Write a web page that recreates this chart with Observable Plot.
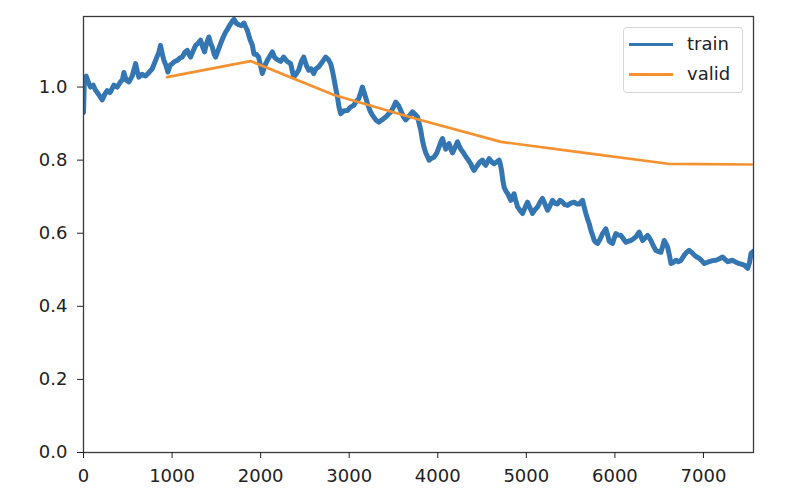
<!DOCTYPE html>
<html><head><meta charset="utf-8">
<script src="https://cdn.jsdelivr.net/npm/d3@7"></script>
<script src="https://cdn.jsdelivr.net/npm/@observablehq/plot@0.6"></script>
<style>
html,body{margin:0;padding:0;background:#fff;}
#wrap{position:relative;width:810px;height:504px;}
.legend{position:absolute;left:623px;top:27px;width:118px;height:64px;border:1px solid #d6d6d6;border-radius:4px;background:rgba(255,255,255,0.85);font-family:"DejaVu Sans";font-size:18px;color:#222;}
.legend .sw{position:absolute;left:5px;width:44px;height:3px;}
.legend .lb{position:absolute;left:63px;line-height:20px;}
</style></head>
<body><div id="wrap"></div>
<script>
const xTicks = [0,1000,2000,3000,4000,5000,6000,7000];
const yTicks = [0,0.2,0.4,0.6,0.8,1.0];
const seriesNames = ["train","valid"];
const seriesColors = ["#3476b1","#f5912f"];

const trainStep = [0,10,30,60,79,110,136,170,211,240,267,300,343,380,418,440,456,480,512,550,588,610,625,660,700,740,776,814,850,870,890,908,930,953,980,1002,1030,1059,1090,1115,1145,1172,1190,1209,1240,1266,1295,1322,1345,1367,1390,1416,1435,1453,1475,1492,1520,1548,1575,1604,1630,1661,1680,1699,1725,1755,1785,1812,1830,1850,1880,1906,1925,1950,1977,2019,2050,2076,2105,2132,2160,2189,2225,2260,2300,2339,2373,2400,2429,2460,2486,2515,2542,2570,2599,2625,2655,2700,2734,2765,2791,2810,2825,2845,2867,2885,2904,2940,2980,3015,3051,3080,3107,3130,3149,3175,3206,3235,3262,3300,3333,3370,3412,3440,3469,3500,3525,3555,3582,3610,3638,3675,3714,3745,3771,3790,3808,3827,3845,3864,3902,3930,3958,3990,4015,4035,4053,4070,4090,4110,4128,4145,4166,4195,4223,4240,4260,4290,4316,4345,4373,4390,4410,4430,4449,4475,4505,4525,4542,4560,4580,4610,4636,4665,4693,4705,4720,4735,4749,4770,4788,4805,4825,4845,4862,4880,4901,4930,4957,4985,5014,5040,5070,5100,5127,5155,5183,5210,5240,5268,5296,5325,5353,5380,5409,5437,5466,5500,5540,5570,5597,5615,5635,5655,5672,5690,5710,5729,5748,5766,5785,5805,5835,5861,5880,5898,5918,5936,5955,5974,5990,6011,6040,6068,6095,6124,6150,6181,6210,6237,6256,6275,6295,6313,6340,6370,6390,6407,6435,6463,6490,6520,6540,6557,6575,6595,6615,6633,6660,6689,6720,6746,6765,6783,6810,6840,6870,6897,6925,6953,6980,7010,7040,7066,7100,7141,7180,7217,7245,7273,7300,7330,7370,7405,7435,7461,7480,7500,7520,7537,7560];
const trainLoss = [0.93,1.02,1.03,1.01,1.0,1.005,0.991,0.98,0.965,0.98,0.99,0.985,1.005,1.0,1.014,1.02,1.04,1.02,1.014,1.03,1.064,1.04,1.027,1.035,1.03,1.04,1.05,1.073,1.095,1.114,1.09,1.073,1.06,1.041,1.06,1.064,1.07,1.073,1.08,1.082,1.095,1.1,1.09,1.082,1.1,1.114,1.12,1.128,1.11,1.096,1.12,1.137,1.12,1.11,1.09,1.082,1.1,1.119,1.135,1.15,1.16,1.173,1.18,1.185,1.175,1.17,1.168,1.175,1.165,1.155,1.13,1.115,1.09,1.09,1.082,1.037,1.06,1.073,1.085,1.096,1.08,1.075,1.07,1.082,1.07,1.064,1.027,1.035,1.046,1.07,1.082,1.06,1.046,1.05,1.037,1.05,1.055,1.07,1.082,1.075,1.064,1.045,1.027,1.0,0.973,0.945,0.927,0.935,0.936,0.945,0.95,0.96,0.968,0.985,1.0,0.98,0.955,0.935,0.923,0.91,0.904,0.91,0.918,0.925,0.932,0.945,0.959,0.95,0.936,0.92,0.91,0.92,0.932,0.925,0.918,0.9,0.882,0.854,0.835,0.82,0.8,0.805,0.808,0.82,0.836,0.85,0.859,0.845,0.83,0.84,0.845,0.832,0.82,0.835,0.85,0.84,0.83,0.82,0.81,0.8,0.79,0.78,0.772,0.78,0.786,0.795,0.8,0.79,0.786,0.795,0.804,0.795,0.79,0.795,0.8,0.79,0.772,0.745,0.726,0.715,0.709,0.7,0.69,0.7,0.708,0.69,0.672,0.662,0.654,0.67,0.685,0.67,0.654,0.665,0.672,0.685,0.695,0.68,0.663,0.675,0.69,0.682,0.68,0.69,0.685,0.678,0.676,0.682,0.685,0.68,0.68,0.685,0.69,0.67,0.654,0.64,0.626,0.608,0.595,0.581,0.575,0.572,0.585,0.599,0.605,0.612,0.595,0.578,0.575,0.572,0.585,0.599,0.595,0.594,0.585,0.575,0.578,0.58,0.585,0.59,0.597,0.603,0.59,0.58,0.587,0.594,0.587,0.58,0.565,0.553,0.55,0.548,0.565,0.58,0.572,0.562,0.54,0.517,0.52,0.526,0.522,0.526,0.533,0.54,0.548,0.553,0.547,0.54,0.535,0.531,0.525,0.517,0.52,0.522,0.525,0.526,0.53,0.535,0.528,0.522,0.524,0.526,0.52,0.517,0.515,0.513,0.508,0.504,0.52,0.545,0.55];

const validStep = [943,1886,2829,3772,4715,5658,6601,7544];
const validLoss = [1.027,1.071,0.978,0.912,0.85,0.82,0.79,0.788];

const train = trainStep.map((s,i)=>({step:s, loss:trainLoss[i]}));
const valid = validStep.map((s,i)=>({step:s, loss:validLoss[i]}));

const chart = Plot.plot({
  width:810, height:504,
  marginLeft:83, marginRight:57, marginTop:16, marginBottom:52,
  style:{fontFamily:"DejaVu Sans", fontSize:"18px", color:"#222", background:"#fff"},
  x:{domain:[0,7565]},
  y:{domain:[0,1.193]},
  marks:[
    Plot.line(train,{x:"step",y:"loss",stroke:seriesColors[0],strokeWidth:5,strokeLinejoin:"round",clip:true}),
    Plot.line(valid,{x:"step",y:"loss",stroke:seriesColors[1],strokeWidth:2.7,clip:true}),
    Plot.frame({stroke:"#3a3a3a",strokeWidth:1.3}),
    Plot.axisX({ticks:xTicks,tickSize:6,tickPadding:11,tickFormat:d=>String(d),label:null,fontSize:18}),
    Plot.axisY({ticks:yTicks,tickSize:6,tickPadding:10,tickFormat:d=>d.toFixed(1),label:null,fontSize:18})
  ]
});
const wrap = document.getElementById("wrap");
wrap.appendChild(chart);
const lg = document.createElement("div");
lg.className = "legend";
seriesNames.forEach((n,i)=>{
  const sw = document.createElement("div");
  sw.className = "sw"; sw.style.top = (15 + i*30) + "px"; sw.style.background = seriesColors[i];
  const lb = document.createElement("div");
  lb.className = "lb"; lb.style.top = (6 + i*30) + "px"; lb.textContent = n;
  lg.appendChild(sw); lg.appendChild(lb);
});
wrap.appendChild(lg);
</script></body></html>
